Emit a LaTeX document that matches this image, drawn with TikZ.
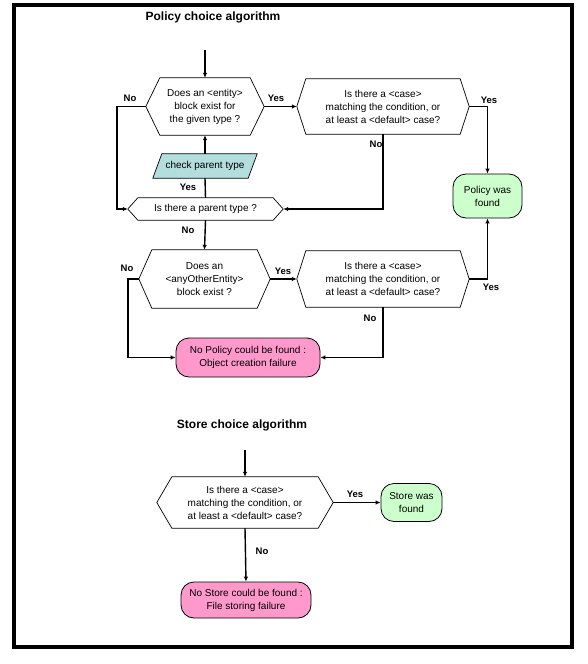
\documentclass[tikz,border=0pt]{standalone}
\usepackage{fontspec}
\setmainfont{Liberation Sans}
\usetikzlibrary{arrows.meta}
\definecolor{okgreen}{RGB}{204,255,204}
\definecolor{failpink}{RGB}{255,153,204}
\definecolor{parcyan}{RGB}{180,222,222}
\tikzset{
  box/.style={draw=none,inner sep=0pt,minimum width=#1},
  txt/.style={font=\fontsize{10}{13}\selectfont,align=center},
  lbl/.style={font=\fontsize{9.5}{10}\bfseries\selectfont,inner sep=0pt},
  ttl/.style={font=\fontsize{12}{14}\bfseries\selectfont,inner sep=0pt},
  shapeline/.style={draw=black,line width=0.7pt},
  endbox/.style={draw=black,line width=0.8pt,rounded corners=13pt,inner sep=0pt,txt},
  conn/.style={line width=1.4pt,-{Latex[length=5pt,width=4.5pt]}},
  connplain/.style={line width=1.4pt},
}
\newcommand\drawhex[2]{\draw[shapeline] (#1.west) -- ([xshift=#2pt]#1.north west) -- ([xshift=-#2pt]#1.north east) -- (#1.east) -- ([xshift=-#2pt]#1.south east) -- ([xshift=#2pt]#1.south west) -- cycle;}
\begin{document}
\begin{tikzpicture}[x=1pt,y=-1pt]
\useasboundingbox (0,0) rectangle (587,664);
\draw[line width=4pt] (14,5) rectangle (572,647);

% ---------- Policy choice ----------
\node[ttl] (title1) at (213,17) {Policy choice algorithm};
\coordinate (start1) at (205,50);

\node[box=118pt,minimum height=57pt,txt] (h1) at (205,106.5) {Does an <entity>\\ block exist for\\ the given type ?};
\drawhex{h1}{14}
\node[box=172pt,minimum height=55pt,txt] (h2) at (383,106.5) {Is there a <case>\\ matching the condition, or\\ at least a <default> case?};
\drawhex{h2}{9}
\node[box=104pt,minimum height=24pt] (par) at (205,166) {};
\draw[shapeline,fill=parcyan] ([xshift=9pt]par.north west) -- (par.north east) -- ([xshift=-9pt]par.south east) -- (par.south west) -- cycle;
\node[txt,inner sep=0pt] (partxt) at (par) {check parent type};
\node[box=155pt,minimum height=22pt,txt] (ph) at (205.5,209) {Is there a parent type ?};
\drawhex{ph}{10}
\node[endbox,fill=okgreen,minimum width=69pt,minimum height=44pt] (pf) at (487.5,196) {Policy was\\ found};

\node[box=131pt,minimum height=58pt,txt] (h3) at (204.5,279) {Does an\\ <anyOtherEntity>\\ block exist ?};
\drawhex{h3}{13}
\node[box=172pt,minimum height=56pt,txt] (h4) at (383,279) {Is there a <case>\\ matching the condition, or\\ at least a <default> case?};
\drawhex{h4}{9}
\node[endbox,fill=failpink,minimum width=144pt,minimum height=39pt] (fail1) at (248,357.5) {No Policy could be found :\\ Object creation failure};

% connectors
\draw[conn] (start1) -- (h1.north);
\draw[conn] (h1.east) -- (h2.west);
\draw[conn] (h1.west) -- (117,106.5) |- (ph.west);
\draw[conn] (par.north) -- (h1.south);
\draw[connplain] (ph.north) -- (par.south);
\draw[conn] (h2.south) |- (ph.east);
\draw[conn] (h2.east) -| (pf.north);
\draw[conn] (ph.south) -- (h3.north);
\draw[conn] (h3.east) -- (h4.west);
\draw[conn] (h3.west) -- (128,279) |- (fail1.west);
\draw[conn] (h4.east) -| (pf.south);
\draw[conn] (h4.south) |- (fail1.east);

% labels
\node[lbl] (l1) at (276,98) {Yes};
\node[lbl] (l2) at (130,98) {No};
\node[lbl] (l3) at (188,187) {Yes};
\node[lbl] (l4) at (376,144) {No};
\node[lbl] (l5) at (489,100) {Yes};
\node[lbl] (l6) at (188,230) {No};
\node[lbl] (l7) at (283,271) {Yes};
\node[lbl] (l8) at (127,268) {No};
\node[lbl] (l9) at (491,287) {Yes};
\node[lbl] (l10) at (370,318) {No};

% ---------- Store choice ----------
\node[ttl] (title2) at (242,425) {Store choice algorithm};
\coordinate (start2) at (245,450);
\node[box=176pt,minimum height=51pt,txt] (h5) at (245,502.5) {Is there a <case>\\ matching the condition, or\\ at least a <default> case?};
\drawhex{h5}{15}
\node[endbox,fill=okgreen,minimum width=61pt,minimum height=38pt] (sf) at (411.5,502.5) {Store was\\ found};
\node[endbox,fill=failpink,minimum width=130pt,minimum height=36pt] (fail2) at (246,600) {No Store could be found :\\ File storing failure};

\draw[conn] (start2) -- (h5.north);
\draw[conn] (h5.east) -- (sf.west);
\draw[conn] (h5.south) -- (fail2.north);
\node[lbl] (l11) at (355,494) {Yes};
\node[lbl] (l12) at (262,551) {No};
\end{tikzpicture}
\end{document}
